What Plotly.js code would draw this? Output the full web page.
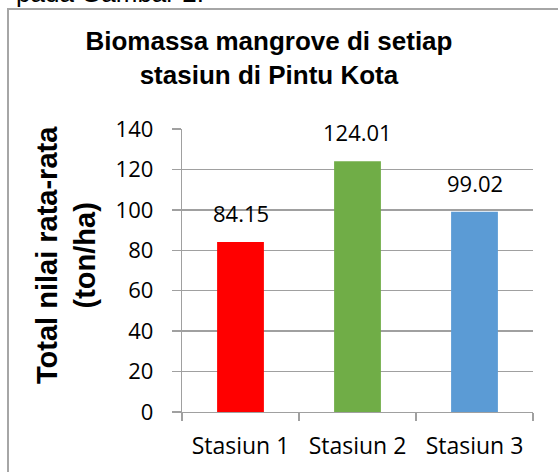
<!DOCTYPE html>
<html>
<head>
<meta charset="utf-8">
<script src="https://cdn.plot.ly/plotly-3.0.1.min.js"></script>
<style>
html, body { margin: 0; padding: 0; background: #fff; overflow: hidden; }
#chart { width: 558px; height: 472px; position: relative; }
#frame { position: absolute; left: 7px; top: 8px; width: 600px; height: 600px;
  border-left: 2px solid #a6a6a6; border-top: 2px solid #a6a6a6; pointer-events: none; }
</style>
</head>
<body>
<div id="chart"></div>
<div id="frame"></div>
<script>
const categories = ["Stasiun 1", "Stasiun 2", "Stasiun 3"];
const values = [84.15, 124.01, 99.02];
const valueLabels = ["84.15", "124.01", "99.02"];
const barColors = ["#ff0000", "#70ad47", "#5b9bd5"];
const yTickValues = [0, 20, 40, 60, 80, 100, 120, 140];
const chartTitle = "Biomassa mangrove di setiap<br>stasiun di Pintu Kota";
const yTitle = "Total nilai rata-rata<br>(ton/ha)";
const captionText = "pada Gambar 2.";

const trace = {
  type: "bar",
  x: categories,
  y: values,
  marker: { color: barColors, line: { width: 0 } },
  hoverinfo: "skip"
};

const annotations = categories.map((c, i) => ({
  x: c, y: values[i], xref: "x", yref: "y",
  text: valueLabels[i], showarrow: false,
  xanchor: "center", yanchor: "bottom", yshift: 12,
  font: { family: "Open Sans, Liberation Sans, sans-serif", size: 22, color: "#000" }
}));

// axis title, placed by hand to sit where the original does
annotations.push({
  xref: "paper", yref: "paper", x: (66 - 182) / 351, y: (412 - 255) / 283,
  xanchor: "center", yanchor: "middle", showarrow: false, textangle: -90,
  text: yTitle,
  font: { family: "Liberation Sans, Arial, sans-serif", size: 29, color: "#000", weight: "bold" }
});

annotations.push({
  xref: "paper", yref: "paper", x: -0.48, y: (412 - 10) / 283,
  xanchor: "left", yanchor: "bottom", showarrow: false,
  text: captionText,
  font: { family: "Liberation Sans, Arial, sans-serif", size: 26, color: "#000" }
});

const layout = {
  width: 558, height: 472,
  margin: { l: 182, r: 25, t: 129, b: 60, pad: 0 },
  paper_bgcolor: "#fff", plot_bgcolor: "#fff",
  showlegend: false,
  bargap: 0.6,
  title: {
    text: chartTitle,
    x: 0.482, xanchor: "center", xref: "container",
    y: 1 - 50 / 472, yanchor: "top", yref: "container",
    font: { family: "Liberation Sans, Arial, sans-serif", size: 26, color: "#000", weight: "bold" }
  },
  xaxis: {
    type: "category",
    showline: true, linecolor: "#a0a0a0", linewidth: 1.3,
    ticks: "outside", tickson: "boundaries", ticklen: 8, tickcolor: "#a0a0a0", tickwidth: 1.3,
    showgrid: false, zeroline: false,
    tickfont: { family: "Open Sans, Liberation Sans, sans-serif", size: 23, color: "#000" },
    ticklabelstandoff: 13,
    automargin: false, fixedrange: true
  },
  yaxis: {
    range: [0, 140], tickvals: yTickValues, ticktext: yTickValues.map(String),
    showline: true, linecolor: "#a0a0a0", linewidth: 1.3,
    ticks: "outside", ticklen: 9, tickcolor: "#a0a0a0", tickwidth: 1.3,
    showgrid: true, gridcolor: "#a0a0a0", gridwidth: 1.3,
    zeroline: false,
    tickfont: { family: "Open Sans, Liberation Sans, sans-serif", size: 22, color: "#000" },
    ticklabelstandoff: 14,
    automargin: false, fixedrange: true
  },
  annotations: annotations
};

Plotly.newPlot("chart", [trace], layout, { displayModeBar: false, staticPlot: true });
</script>
</body>
</html>
